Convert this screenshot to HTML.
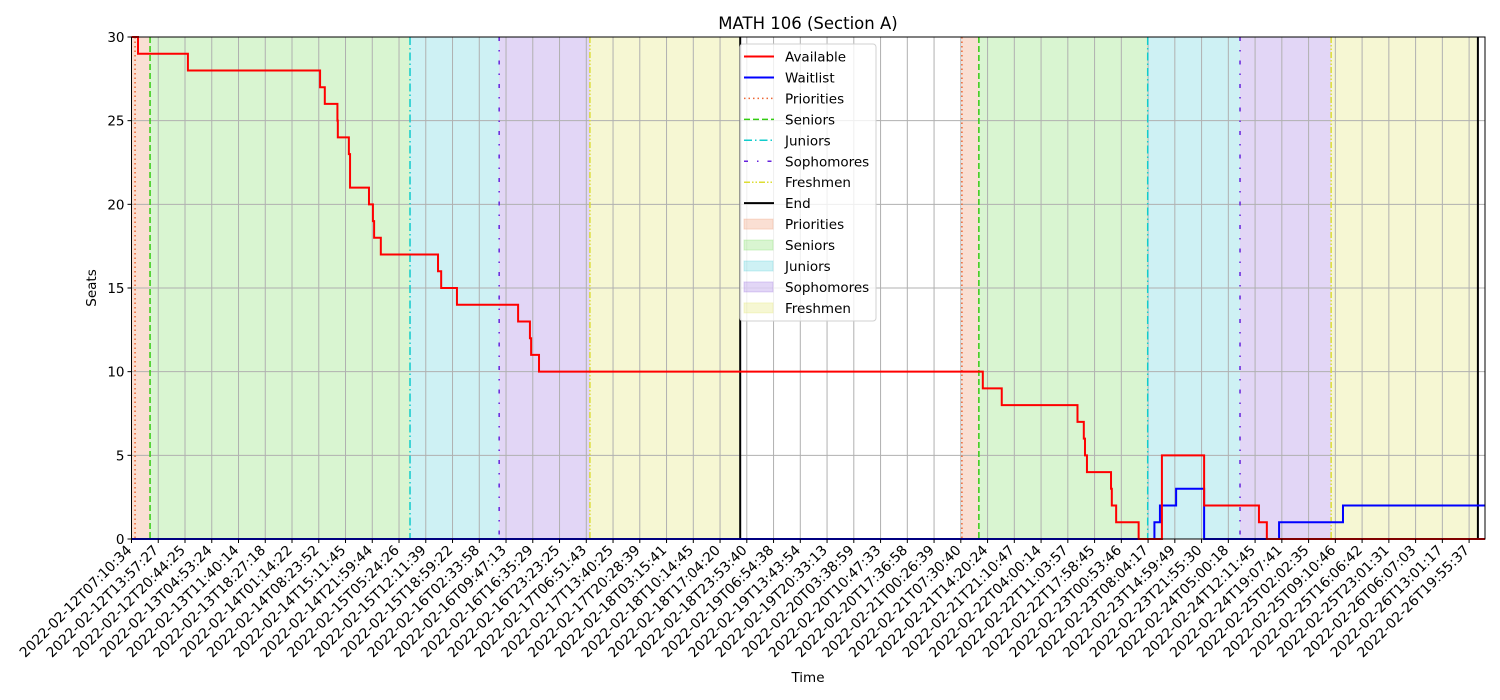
<!DOCTYPE html>
<html><head><meta charset="utf-8"><style>
body{margin:0;background:#fff;}
svg{display:block;font-family:"DejaVu Sans","Liberation Sans",sans-serif;}
</style></head><body>
<svg id="chart" width="1500" height="700"></svg>
<script>
const availTimes=[0,1.65,14.3,47.8,49.0,52.2,52.3,55.1,55.4,60.2,61.2,61.5,63.2,77.7,78.5,82.5,98.0,101.0,101.3,103.3,215.8,220.6,239.8,241.4,241.7,242.2,248.3,248.5,249.6,255.3,261.2,271.9,285.8,287.8];
const availValues=[30,29,28,27,26,25,24,23,21,20,19,18,17,16,15,14,13,12,11,10,9,8,7,6,5,4,3,2,1,0,5,2,1,0];
const waitTimes=[0,259.3,260.7,264.8,271.9,290.9,307.1];
const waitValues=[0,1,2,3,0,1,2];
const phaseNames=["Priorities","Seniors","Juniors","Sophomores","Freshmen","End"];
const phaseTimes1=[0.9,4.7,70.6,93.2,116.2,154.3];
const phaseTimes2=[210.5,214.8,257.6,281.0,304.1,341.3];
const yTicks=[0,5,10,15,20,25,30];
const xTickLabels=["2022-02-12T07:10:34","2022-02-12T13:57:27","2022-02-12T20:44:25","2022-02-13T04:53:24","2022-02-13T11:40:14","2022-02-13T18:27:18","2022-02-14T01:14:22","2022-02-14T08:23:52","2022-02-14T15:11:45","2022-02-14T21:59:44","2022-02-15T05:24:26","2022-02-15T12:11:39","2022-02-15T18:59:22","2022-02-16T02:33:58","2022-02-16T09:47:13","2022-02-16T16:35:29","2022-02-16T23:23:25","2022-02-17T06:51:43","2022-02-17T13:40:25","2022-02-17T20:28:39","2022-02-18T03:15:41","2022-02-18T10:14:45","2022-02-18T17:04:20","2022-02-18T23:53:40","2022-02-19T06:54:38","2022-02-19T13:43:54","2022-02-19T20:33:13","2022-02-20T03:38:59","2022-02-20T10:47:33","2022-02-20T17:36:58","2022-02-21T00:26:39","2022-02-21T07:30:40","2022-02-21T14:20:24","2022-02-21T21:10:47","2022-02-22T04:00:14","2022-02-22T11:03:57","2022-02-22T17:58:45","2022-02-23T00:53:46","2022-02-23T08:04:17","2022-02-23T14:59:49","2022-02-23T21:55:30","2022-02-24T05:00:18","2022-02-24T12:11:45","2022-02-24T19:07:41","2022-02-25T02:02:35","2022-02-25T09:10:46","2022-02-25T16:06:42","2022-02-25T23:01:31","2022-02-26T06:07:03","2022-02-26T13:01:17","2022-02-26T19:55:37"];
const tickStepH=6.7814;
const xMax=343.1;

const NS="http://www.w3.org/2000/svg";
const svg=document.getElementById('chart');
const L=131.5,R=1485,T=37,B=539;
const x=h=>L+h/xMax*(R-L);
const y=v=>B-v/30*(B-T);
function mk(tag,attrs,parent){const e=document.createElementNS(NS,tag);for(const k in attrs)e.setAttribute(k,attrs[k]);(parent||svg).appendChild(e);return e;}

const spanColors=["rgba(240,150,110,0.3)","rgba(120,220,90,0.28)","rgba(60,200,210,0.25)","rgba(140,90,220,0.25)","rgba(225,230,110,0.3)"];
const lineColors=["#ee6633","#33cc11","#11cccc","#6622dd","#dddd33","#000"];
const dashes=["1.5,3","6,3","8,3,1.5,3","4,9,1.5,9","6,2,1.5,2,1.5,2",""];

[phaseTimes1,phaseTimes2].forEach((pt,ci)=>{
  for(let i=0;i<5;i++){
    const a=(ci===0&&i===0)?0:pt[i], b=pt[i+1];
    const r=mk('rect',{x:x(a),y:T,width:x(b)-x(a),height:B-T,fill:spanColors[i]});
    
    
  }
});
xTickLabels.forEach((s,k)=>{
  const px=x(k*tickStepH);
  const g=mk('line',{x1:px,x2:px,y1:T,y2:B,stroke:"#b0b0b0","stroke-width":1});
  
  
});
yTicks.forEach(v=>{
  const g=mk('line',{x1:L,x2:R,y1:y(v),y2:y(v),stroke:"#b0b0b0","stroke-width":1});
  
  
});
[phaseTimes1,phaseTimes2].forEach((pt,ci)=>{
  pt.forEach((t,i)=>{
    const l=mk('line',{x1:x(t),x2:x(t),y1:T,y2:B,stroke:lineColors[i],"stroke-width":i===5?2:1.5,"stroke-dasharray":dashes[i]});
    
    
  });
});
function stepPath(ts,vs){let d="M"+x(ts[0])+","+y(vs[0]);for(let i=1;i<ts.length;i++){d+=" H"+x(ts[i])+" V"+y(vs[i]);}d+=" H"+x(xMax);return d;}
const wp=mk('path',{d:stepPath(waitTimes,waitValues),fill:"none",stroke:"#0000ff","stroke-width":2});


const ap=mk('path',{d:stepPath(availTimes,availValues),fill:"none",stroke:"#ff0000","stroke-width":2});


const fr=mk('rect',{x:L,y:T,width:R-L,height:B-T,fill:"none",stroke:"#000","stroke-width":1});


yTicks.forEach(v=>{
  mk('line',{x1:L-4,x2:L,y1:y(v),y2:y(v),stroke:"#000"});
  const t=mk('text',{x:L-7,y:y(v)+5,"text-anchor":"end","font-size":13.5,fill:"#000"});
  t.textContent=v;
  
  
});
xTickLabels.forEach((lab,k)=>{
  const px=x(k*tickStepH);
  mk('line',{x1:px,x2:px,y1:B,y2:B+4,stroke:"#000"});
  const ax=px+1, ay=B+12;
  const t=mk('text',{x:ax,y:ay,"text-anchor":"end","font-size":13.9,fill:"#000",transform:`rotate(-45 ${ax} ${ay})`});
  t.textContent=lab;
  
  
});
const title=mk('text',{x:808,y:29,"text-anchor":"middle","font-size":16.5});title.textContent="MATH 106 (Section A)";


const xt=mk('text',{x:808,y:682,"text-anchor":"middle","font-size":13.5});xt.textContent="Time";


const yt=mk('text',{x:96,y:288,"text-anchor":"middle","font-size":13.5,transform:"rotate(-90 96 288)"});yt.textContent="Seats";


const lg=mk('g',{});


mk('rect',{x:740,y:44,width:136,height:277,rx:3,fill:"rgba(255,255,255,0.8)",stroke:"#d0d0d0"},lg);
const legLabels=["Available","Waitlist","Priorities","Seniors","Juniors","Sophomores","Freshmen","End","Priorities","Seniors","Juniors","Sophomores","Freshmen"];
legLabels.forEach((s,i)=>{
  const yy=56.5+i*20.95;
  if(i<8){
    const col=i===0?"#ff0000":i===1?"#0000ff":lineColors[i-2];
    const da=i<2?"":dashes[i-2];
    mk('line',{x1:744,x2:774,y1:yy,y2:yy,stroke:col,"stroke-width":i<2||i===7?2:1.5,"stroke-dasharray":da},lg);
  } else {
    mk('rect',{x:744,y:yy-5,width:29,height:10,fill:spanColors[i-8],stroke:spanColors[i-8]},lg);
  }
  const t=mk('text',{x:785,y:yy+5,"font-size":13.5},lg);
  t.textContent=s;
  
  
});
</script>
</body></html>
